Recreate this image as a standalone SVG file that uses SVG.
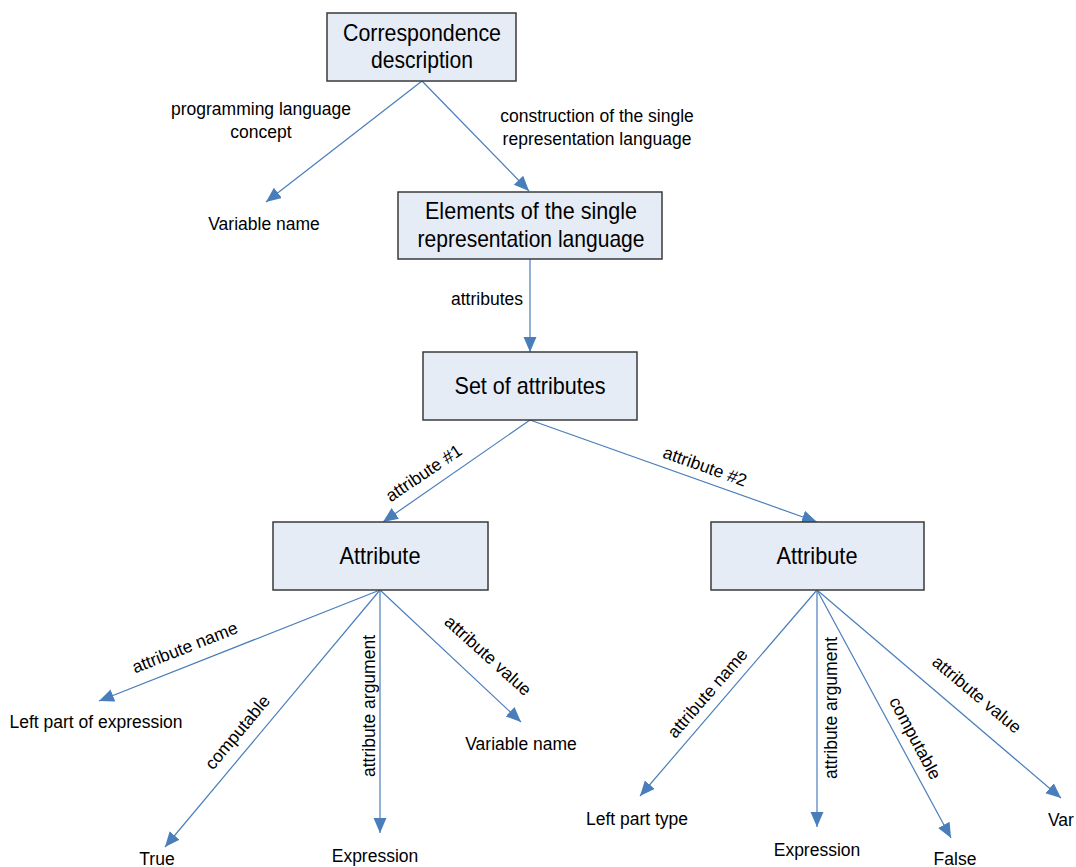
<svg xmlns="http://www.w3.org/2000/svg" width="1076" height="867" viewBox="0 0 1076 867">
<style>
.box{fill:#e6ecf6;stroke:#3a3a3a;stroke-width:1.5}
.nt{font-family:"Liberation Sans",Arial,sans-serif;font-size:24px;fill:#000;text-anchor:middle}
.lb{font-family:"Liberation Sans",Arial,sans-serif;font-size:17.5px;fill:#000;text-anchor:middle}
.cn{stroke:#4a7ebb;stroke-width:1.2;fill:none;marker-end:url(#ah)}
</style>
<defs>
<marker id="ah" markerUnits="userSpaceOnUse" markerWidth="16" markerHeight="14" refX="15" refY="6.5" orient="auto">
<path d="M0,0 L15,6.5 L0,13 z" fill="#4a7ebb"/>
</marker>
</defs>
<rect width="1076" height="867" fill="#fff"/>
<g id="connectors">
<line class="cn" x1="422" y1="81" x2="266" y2="202"/>
<line class="cn" x1="422" y1="81" x2="529" y2="191"/>
<line class="cn" x1="530" y1="259" x2="530" y2="352"/>
<line class="cn" x1="530" y1="420" x2="383" y2="522"/>
<line class="cn" x1="530" y1="420" x2="817" y2="522"/>
<line class="cn" x1="380" y1="590" x2="99" y2="701"/>
<line class="cn" x1="380" y1="590" x2="165" y2="847"/>
<line class="cn" x1="380" y1="590" x2="380" y2="833"/>
<line class="cn" x1="380" y1="590" x2="521" y2="722"/>
<line class="cn" x1="817" y1="590" x2="640" y2="796"/>
<line class="cn" x1="817" y1="590" x2="817" y2="827"/>
<line class="cn" x1="817" y1="590" x2="951" y2="838"/>
<line class="cn" x1="817" y1="590" x2="1061" y2="798"/>
</g>
<g id="n-correspondence">
<rect class="box" x="327" y="13" width="189" height="68"/>
<text class="nt" x="422" y="41" textLength="158" lengthAdjust="spacingAndGlyphs">Correspondence</text>
<text class="nt" x="422" y="68" textLength="102" lengthAdjust="spacingAndGlyphs">description</text>
</g>
<g id="n-elements">
<rect class="box" x="398" y="192" width="264" height="67"/>
<text class="nt" x="531" y="219" textLength="212" lengthAdjust="spacingAndGlyphs">Elements of the single</text>
<text class="nt" x="531" y="247" textLength="227" lengthAdjust="spacingAndGlyphs">representation language</text>
</g>
<g id="n-set">
<rect class="box" x="423" y="352" width="214" height="68"/>
<text class="nt" x="530" y="394" textLength="151" lengthAdjust="spacingAndGlyphs">Set of attributes</text>
</g>
<g id="n-attr1">
<rect class="box" x="273" y="522" width="215" height="68"/>
<text class="nt" x="380" y="564" textLength="81" lengthAdjust="spacingAndGlyphs">Attribute</text>
</g>
<g id="n-attr2">
<rect class="box" x="711" y="522" width="213" height="68"/>
<text class="nt" x="817" y="564" textLength="81" lengthAdjust="spacingAndGlyphs">Attribute</text>
</g>
<g id="labels">
<text class="lb" x="261" y="115">programming language</text>
<text class="lb" x="261" y="138">concept</text>
<text class="lb" x="597" y="122">construction of the single</text>
<text class="lb" x="597" y="145">representation language</text>
<text class="lb" x="487" y="305">attributes</text>
<text class="lb" transform="translate(427,478) rotate(-34)">attribute #1</text>
<text class="lb" transform="translate(703,472) rotate(19.6)">attribute #2</text>
<text class="lb" transform="translate(187,653) rotate(-21.5)">attribute name</text>
<text class="lb" transform="translate(242,736) rotate(-50)">computable</text>
<text class="lb" transform="translate(375,706) rotate(-90)">attribute argument</text>
<text class="lb" transform="translate(484,660) rotate(42)">attribute value</text>
<text class="lb" transform="translate(712,697) rotate(-49)">attribute name</text>
<text class="lb" transform="translate(837,708) rotate(-90)">attribute argument</text>
<text class="lb" transform="translate(910,741) rotate(62)">computable</text>
<text class="lb" transform="translate(973,699) rotate(40)">attribute value</text>
</g>
<g id="leaves">
<text class="lb" x="264" y="230">Variable name</text>
<text class="lb" x="96" y="728">Left part of expression</text>
<text class="lb" x="521" y="750">Variable name</text>
<text class="lb" x="157" y="865">True</text>
<text class="lb" x="375" y="862">Expression</text>
<text class="lb" x="637" y="825">Left part type</text>
<text class="lb" x="817" y="856">Expression</text>
<text class="lb" x="955" y="865">False</text>
<text class="lb" x="1048" y="826" style="text-anchor:start">Var</text>
</g>
</svg>
